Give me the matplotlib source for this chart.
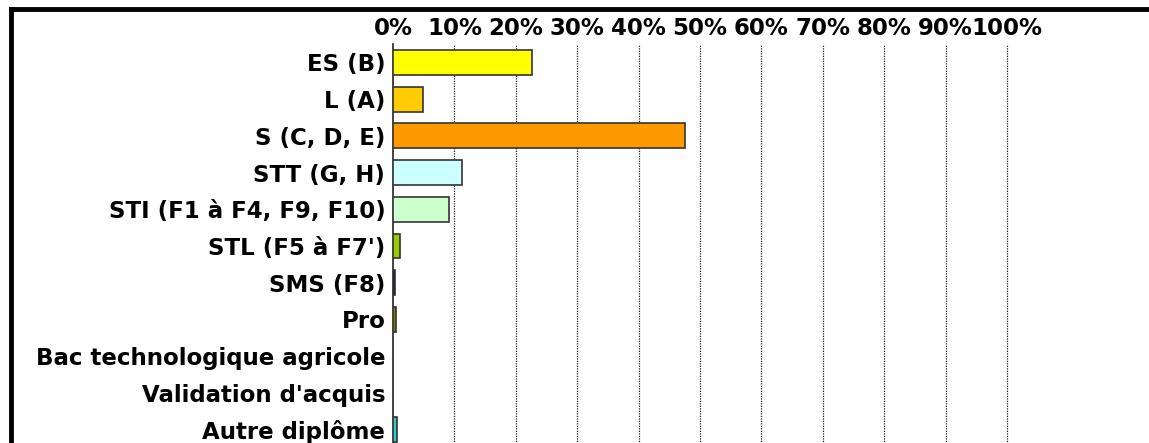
import matplotlib.pyplot as plt
from matplotlib.lines import Line2D

categories = ["ES (B)", "L (A)", "S (C, D, E)", "STT (G, H)",
              "STI (F1 à F4, F9, F10)", "STL (F5 à F7')", "SMS (F8)", "Pro",
              "Bac technologique agricole", "Validation d'acquis", "Autre diplôme"]
values = [22.7, 4.9, 47.6, 11.2, 9.2, 1.2, 0.3, 0.5, 0.0, 0.0, 0.7]
colors = ["#FFFF00", "#FFCC00", "#FF9900", "#CCFFFF", "#CCFFCC", "#99CC00",
          "#000080", "#808000", "#FFFFFF", "#FFFFFF", "#33CCCC"]
ticks = list(range(0, 101, 10))
tick_labels = [f"{t}%" for t in ticks]

plt.rcParams["font.family"] = ["DejaVu Sans"]

fig = plt.figure(figsize=(11.49, 4.43), dpi=100)
W, H = 1149, 443
ax = fig.add_axes([393 / W, (H - 448) / H, (1007 - 393) / W, (448 - 44) / H])

y = list(range(len(categories)))
for i in range(len(categories)):
    if values[i] > 0:
        ax.barh(y[i], values[i], height=0.68, color=colors[i],
                edgecolor="#333333", linewidth=1.2, zorder=3)

ax.set_ylim(len(categories) - 0.5, -0.5)
ax.set_xlim(0, 100)
ax.set_yticks(y)
ax.set_yticklabels(categories, fontsize=16.5, fontweight="bold")
ax.set_xticks(ticks)
ax.set_xticklabels(tick_labels, fontsize=16.5, fontweight="bold")
ax.xaxis.tick_top()
ax.tick_params(axis="both", length=0)
ax.tick_params(axis="y", pad=5.5)
ax.tick_params(axis="x", pad=3)

for t in ticks[1:]:
    ax.axvline(t, color="#222222", linestyle=(0, (1, 1)), linewidth=0.9,
               zorder=1, clip_on=False)

for s in ["top", "right", "bottom"]:
    ax.spines[s].set_visible(False)
ax.spines["left"].set_linewidth(1.2)
ax.spines["left"].set_color("#222222")

# outer frame
fig.add_artist(Line2D([11 / W, 1.0], [1 - 9 / H, 1 - 9 / H], color="black",
                      linewidth=3.5, transform=fig.transFigure))
fig.add_artist(Line2D([11 / W, 11 / W], [0, 1 - 9 / H], color="black",
                      linewidth=3.5, transform=fig.transFigure))

fig.savefig("out.png", dpi=100)
